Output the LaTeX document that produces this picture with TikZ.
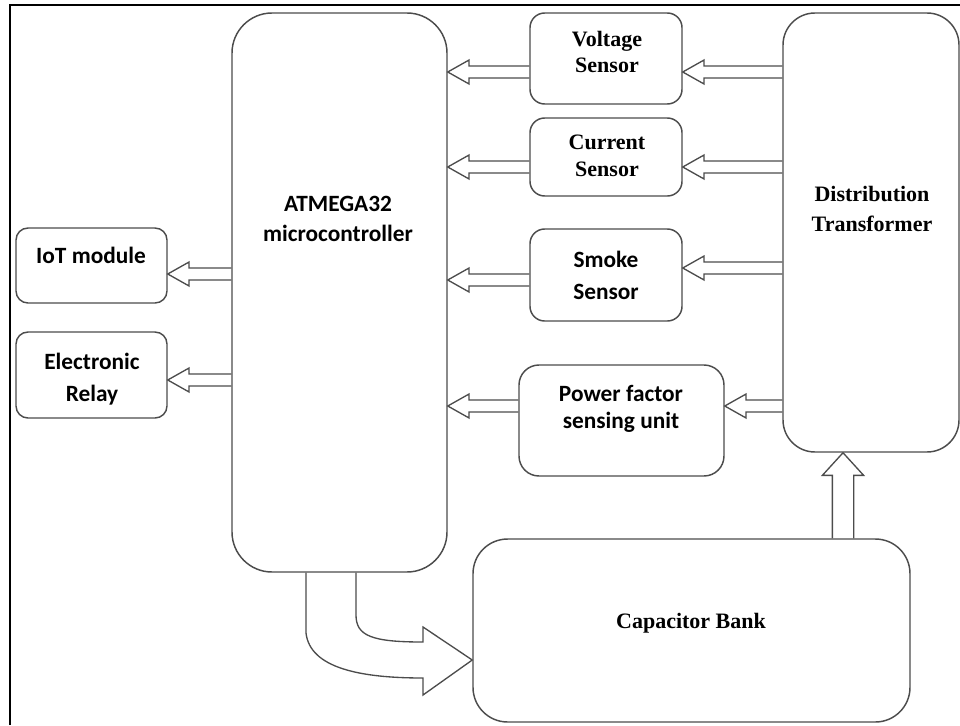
\documentclass[tikz,border=0pt]{standalone}
\usepackage{fontspec}
\setmainfont{Liberation Serif}
\newfontfamily\calibri{Carlito}
\usetikzlibrary{calc}
\definecolor{linegray}{gray}{0.3}
\tikzset{%
	box/.style={
		draw=linegray,
		line width=1.1pt,
		rounded corners=#1
	},
	box/.default=11pt,
	sanslbl/.style={
		font=\calibri\bfseries\fontsize{17.5}{#1}\selectfont,
		align=center,
		inner sep=0pt
	},
	sanslbl/.default=23,
	seriflbl/.style={
		font=\bfseries\fontsize{16.5}{#1}\selectfont,
		align=center,
		inner sep=0pt
	},
	seriflbl/.default=23,
	arrow shaft/.store in=\arrshaft,
	arrow head/.store in=\arrhead,
	arrow len/.store in=\arrlen,
	arrow shaft=4.5pt, arrow head=9pt, arrow len=16pt,
	blockarrow/.style={
		draw=linegray,
		line width=1pt,
		to path={
			($(\tikztotarget)!\arrlen!(\tikztostart)$) coordinate (ab)
			($(\tikztostart)!\arrshaft!90:(\tikztotarget)$)
			-- ($(ab)!\arrshaft!-90:(\tikztostart)$)
			-- ($(ab)!\arrhead!-90:(\tikztostart)$)
			-- (\tikztotarget)
			-- ($(ab)!\arrhead!90:(\tikztostart)$)
			-- ($(ab)!\arrshaft!90:(\tikztostart)$)
			-- ($(\tikztostart)!\arrshaft!-90:(\tikztotarget)$)
		}
	},
}

\begin{document}
\begin{tikzpicture}[x=0.75pt,y=-0.75pt]
	\useasboundingbox (0,0) rectangle (960,725);
	% frame
	\draw[line width=1.6pt] (10,725) -- (10,5) -- (960,5);

	% Draw the blocks
	\node[box=30pt, minimum width=161.25pt, minimum height=419.25pt] (mcu) at (339.5,292.5) {};
	\node[box, minimum width=114pt, minimum height=68.25pt] (volt) at (606,58.5) {};
	\node[box, minimum width=114pt, minimum height=58.5pt] (curr) at (606,157) {};
	\node[box, minimum width=114pt, minimum height=69pt] (smoke) at (606,275) {};
	\node[box=24pt, minimum width=132pt, minimum height=329.25pt] (dt) at (871,232.5) {};
	\node[box=15pt, minimum width=153.75pt, minimum height=83.25pt] (pf) at (621.5,420.5) {};
	\node[box=26pt, minimum width=327.75pt, minimum height=137.25pt] (cap) at (691.5,630.5) {};
	\node[box=9pt, minimum width=113.25pt, minimum height=56.25pt] (iot) at (91.5,265.5) {};
	\node[box=9pt, minimum width=113.25pt, minimum height=64.5pt] (relay) at (91.5,375) {};

	% Labels
	\node[sanslbl] (mcutxt) at (338,219) {ATMEGA32\\microcontroller};
	\node[seriflbl=20] (volttxt) at (607,52) {Voltage\\Sensor};
	\node[seriflbl=20] (currtxt) at (607,156) {Current\\Sensor};
	\node[sanslbl=24] (smoketxt) at (606,275) {Smoke\\Sensor};
	\node[seriflbl] (dttxt) at (872,209) {Distribution\\Transformer};
	\node[sanslbl=20] (pftxt) at (621,409) {Power factor\\sensing unit};
	\node[seriflbl] (captxt) at (691,623) {Capacitor Bank};
	\node[sanslbl] (iottxt) at (91,255) {IoT module};
	\node[sanslbl=24] (relaytxt) at (92,379) {Electronic\\Relay};

	% Arrows into the microcontroller
	\draw[blockarrow] (volt.west |- 0,72) to (mcu.east |- 0,72);
	\draw[blockarrow] (curr.west |- 0,167) to (mcu.east |- 0,167);
	\draw[blockarrow] (smoke.west |- 0,280) to (mcu.east |- 0,280);
	\draw[blockarrow] (pf.west |- 0,406) to (mcu.east |- 0,406);

	% Arrows out of the transformer
	\draw[blockarrow] (dt.west |- 0,72) to (volt.east |- 0,72);
	\draw[blockarrow] (dt.west |- 0,167) to (curr.east |- 0,167);
	\draw[blockarrow] (dt.west |- 0,268) to (smoke.east |- 0,268);
	\draw[blockarrow] (dt.west |- 0,406) to (pf.east |- 0,406);

	% Outputs
	\draw[blockarrow] (mcu.west |- 0,274) to (iot.east |- 0,274);
	\draw[blockarrow] (mcu.west |- 0,380) to (relay.east |- 0,380);

	% Capacitor bank feeds the transformer
	\draw[blockarrow, arrow shaft=8pt, arrow head=15.5pt, arrow len=17pt]
		(cap.north -| 843,0) to (dt.south -| 843,0);

	% Bent arrow to the capacitor bank
	\draw[draw=linegray, line width=1pt]
		(mcu.south -| 306,0) -- (306,633)
		.. controls (310,668) and (360,678) .. (423,678)
		-- (423,695) -- (cap.west |- 0,660) -- (423,627) -- (423,642)
		.. controls (372,642) and (356,636) .. (356,615)
		-- (mcu.south -| 356,0);
\end{tikzpicture}
\end{document}
